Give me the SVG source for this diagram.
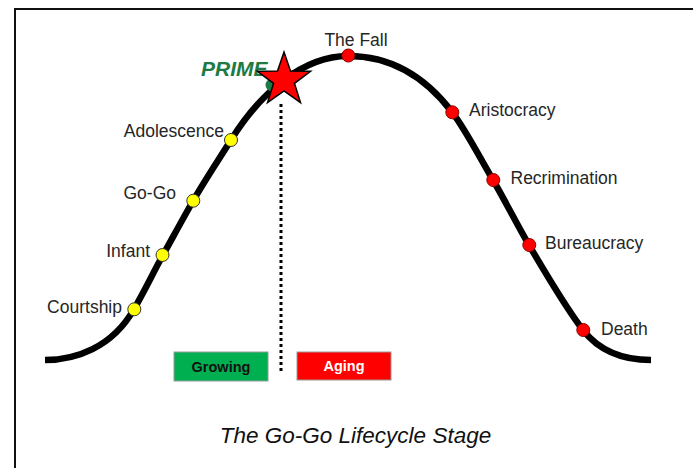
<svg xmlns="http://www.w3.org/2000/svg" width="693" height="468" viewBox="0 0 693 468">
  <style>
    .lbl { font-family: "Liberation Sans", Arial, sans-serif; font-size: 17.5px; fill: #262626; }
    .end { text-anchor: end; }
    .grow { fill: #FFFF00; stroke: #333; stroke-width: 1; }
    .age { fill: #FF0000; stroke: #8a0000; stroke-width: 1; }
    .box-text { font-family: "Liberation Sans", Arial, sans-serif; font-size: 14.5px; font-weight: bold; text-anchor: middle; }
  </style>
  <rect width="693" height="468" fill="#ffffff"/>
  <!-- frame -->
  <path d="M15,468 V9 H693" fill="none" stroke="#111" stroke-width="2"/>

  <g id="connectors">
    <!-- lifecycle curve -->
    <path id="lifecycle-curve" fill="none" stroke="#000" stroke-width="6.5"
      d="M45,360 C75,360 112,348 134,309
         C143.7,292.6 153.3,272.4 163,255
         C173,237 183,218.5 193,201
         C205.7,178.8 218.3,160.3 231,140
         C248.7,111.7 266.3,93.3 284,80
         C305.3,64 326.7,56 348,56
         C382.7,56 420,70 452,112
         C465.7,129.9 479.3,156.8 493,180
         C505,200.4 517,224.6 529,245
         C547,275.6 565,306.6 583,330
         C600,352 625,360 651,360"/>
    <!-- divider between growing and aging -->
    <line x1="281" y1="104" x2="281" y2="372" stroke="#000" stroke-width="3" stroke-dasharray="3,3"/>
  </g>

  <g id="courtship"><circle class="grow" cx="134.3" cy="309.3" r="6.5"/><text class="lbl end" x="122" y="313">Courtship</text></g>
  <g id="infant"><circle class="grow" cx="162.5" cy="255" r="6.5"/><text class="lbl end" x="150" y="257">Infant</text></g>
  <g id="gogo"><circle class="grow" cx="193.3" cy="200.7" r="6.5"/><text class="lbl end" x="176" y="199">Go-Go</text></g>
  <g id="adolescence"><circle class="grow" cx="231" cy="140" r="6.5"/><text class="lbl end" x="224" y="137">Adolescence</text></g>

  <g id="prime">
    <circle cx="272" cy="85" r="6.5" fill="#1E7B45"/>
    <text x="201" y="76" font-family="Liberation Sans, Arial, sans-serif" font-size="21" font-weight="bold" font-style="italic" fill="#1E7B45">PRIME</text>
    <polygon fill="#FF0000" stroke="#000" stroke-width="1.5" stroke-linejoin="miter"
      points="284,52 290.5,71.1 310.6,71.3 294.5,83.4 300.5,102.7 284,91 267.5,102.7 273.5,83.4 257.4,71.3 277.5,71.1"/>
  </g>

  <g id="the-fall"><circle class="age" cx="348.3" cy="55.5" r="6.5"/><text class="lbl" x="356" y="46" text-anchor="middle">The Fall</text></g>
  <g id="aristocracy"><circle class="age" cx="452.3" cy="112.3" r="6.5"/><text class="lbl" x="469" y="116">Aristocracy</text></g>
  <g id="recrimination"><circle class="age" cx="493.3" cy="180" r="6.5"/><text class="lbl" x="510.5" y="184">Recrimination</text></g>
  <g id="bureaucracy"><circle class="age" cx="529.3" cy="245" r="6.5"/><text class="lbl" x="545" y="249">Bureaucracy</text></g>
  <g id="death"><circle class="age" cx="583.3" cy="330" r="6.5"/><text class="lbl" x="601" y="335">Death</text></g>

  <g id="growing">
    <rect x="174" y="352" width="94" height="29" fill="#00B050" stroke="#9a9a9a" stroke-width="1"/>
    <text class="box-text" x="221" y="372" fill="#111">Growing</text>
  </g>
  <g id="aging">
    <rect x="297" y="352" width="94" height="28" fill="#FF0000" stroke="#9a9a9a" stroke-width="1"/>
    <text class="box-text" x="344" y="371" fill="#ffffff">Aging</text>
  </g>

  <text id="caption" x="355.5" y="443" text-anchor="middle" font-family="Liberation Sans, Arial, sans-serif" font-size="22.5" font-style="italic" fill="#111">The Go-Go Lifecycle Stage</text>
</svg>
